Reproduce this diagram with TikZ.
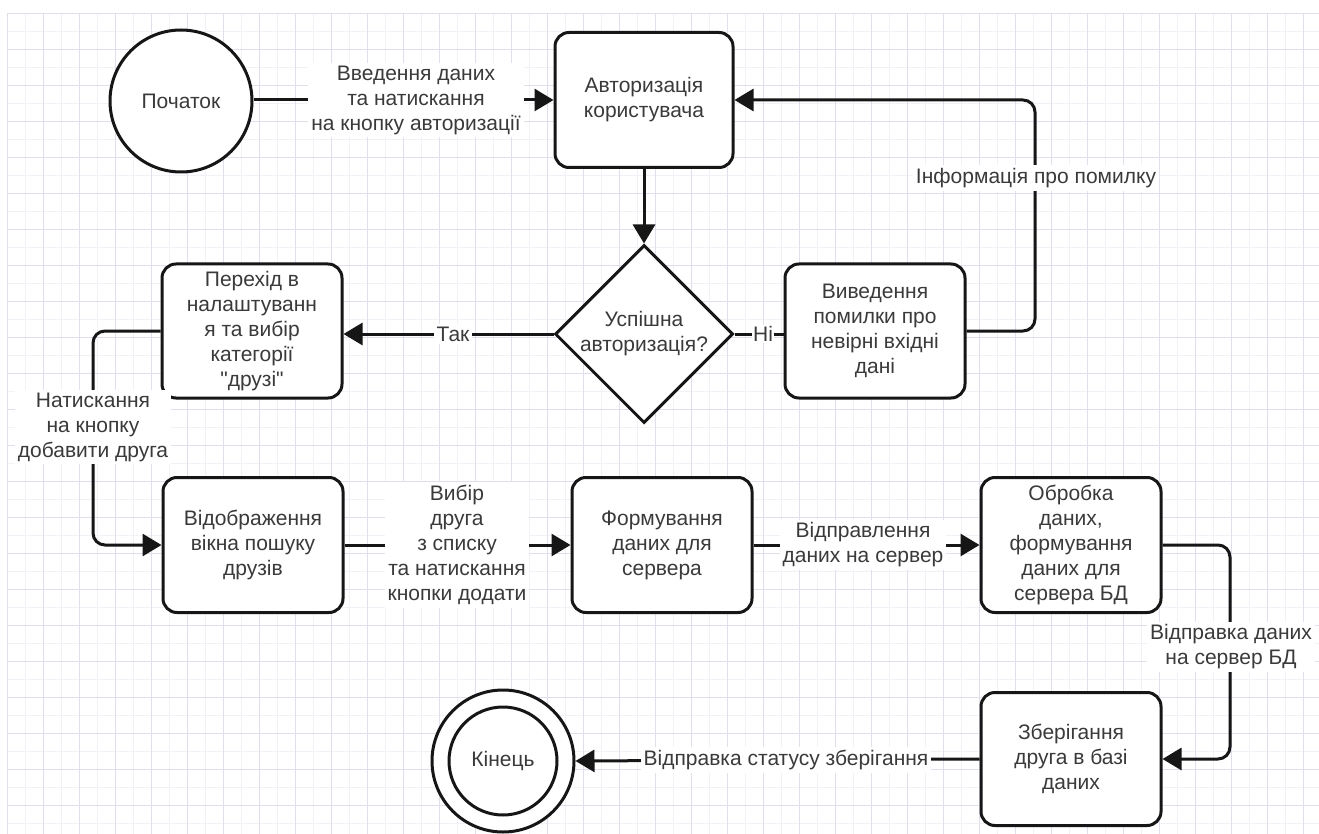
\documentclass[tikz,border=0pt]{standalone}
\usepackage{fontspec}
\setmainfont{Liberation Sans}
\newfontfamily\qfont{Liberation Sans}
\usetikzlibrary{arrows.meta,shapes.geometric}
\definecolor{gridminor}{RGB}{241,241,247}
\definecolor{gridmajor}{RGB}{224,224,236}
\definecolor{txt}{RGB}{58,58,58}
\definecolor{ink}{RGB}{22,22,22}
\tikzset{
  txtfont/.style={font=\fontsize{21}{25}\selectfont, text=txt, align=center},
  stepbox/.style={txtfont, draw=ink, line width=3pt, rounded corners=14pt, fill=white,
    minimum width=180pt, minimum height=134pt, inner sep=2pt},
  decision/.style={txtfont, draw=ink, line width=3pt, fill=white, shape=diamond,
    minimum width=178pt, minimum height=178pt, inner sep=0pt},
  terminal/.style={txtfont, draw=ink, line width=3pt, fill=white, circle, inner sep=0pt},
  lab/.style={txtfont, fill=white, inner sep=3pt},
  conn/.style={draw=ink, line width=3pt, rounded corners=12pt},
  arr/.style={conn, -{Triangle[length=19pt,width=22pt]}},
}
\begin{document}
\begin{tikzpicture}[x=1pt,y=-1pt]
\useasboundingbox (0,0) rectangle (1319,834);
\fill[white] (0,0) rectangle (1319,834);
% grid
\foreach \i in {0,...,72} {\draw[gridminor, line width=0.8pt] (7+18*\i,13) -- (7+18*\i,834);}
\foreach \j in {0,...,45} {\draw[gridminor, line width=0.8pt] (7,13+18*\j) -- (1319,13+18*\j);}
\foreach \i in {0,...,36} {\draw[gridmajor, line width=0.8pt] (7+36*\i,13) -- (7+36*\i,834);}
\foreach \j in {0,...,22} {\draw[gridmajor, line width=0.8pt] (7,13+36*\j) -- (1319,13+36*\j);}

% nodes
\node[terminal, minimum size=142pt] (start) at (181,101) {Початок};
\node[stepbox, minimum width=178pt, minimum height=135pt] (auth) at (644,100) {Авторизація\\користувача};
\node[decision] (dec) at (644,334) {Успішна\\авторизація?};
\node[stepbox] (err) at (875,331) {Виведення\\помилки про\\невірні вхідні\\дані};
\node[stepbox] (friends) at (252,331) {Перехід в\\налаштуванн\\я та вибір\\категорії\\{\qfont\char34}друзі{\qfont\char34}};
\node[stepbox, minimum height=135pt] (disp) at (253,545) {Відображення\\вікна пошуку\\друзів};
\node[stepbox, minimum height=135pt] (form) at (662,545) {Формування\\даних для\\сервера};
\node[stepbox, minimum height=135pt] (proc) at (1071,545) {Обробка\\даних,\\формування\\даних для\\сервера БД};
\node[stepbox, minimum height=133pt] (store) at (1071,759) {Зберігання\\друга в базі\\даних};
\node[terminal, minimum size=142pt] (endo) at (503,761) {};
\node[terminal, minimum size=108pt] (endi) at (endo.center) {Кінець};

% helper coordinates
\coordinate (eR) at (1035,100);
\coordinate (cL) at (93,440);
\coordinate (cR) at (1230,650);

% connectors
\draw[arr] (start.east |- auth.west) -- (auth.west);
\draw[arr] (auth.south) -- (dec.north);
\draw[arr] (dec.west) -- (friends.east |- dec.west);
\draw[conn] (dec.east) -- (err.west |- dec.east);
\draw[arr] (err.east) -| (eR) -- (auth.east);
\draw[arr] (friends.west) -| (cL) |- (disp.west);
\draw[arr] (disp.east) -- (form.west);
\draw[arr] (form.east) -- (proc.west);
\draw[arr] (proc.east) -| (cR) |- (store.east);
\draw[arr] (store.west) -- (endo.east);

% labels
\node[lab] (l1) at (416,100) {Введення даних\\та натискання\\на кнопку авторизації};
\node[lab] (l2) at (453,334) {Так};
\node[lab, inner sep=1pt] (l3) at (763,334) {Ні};
\node[lab] (l4) at (1036,178) {Інформація про помилку};
\node[lab] (l5) at (93,427) {Натискання\\на кнопку\\добавити друга};
\node[lab] (l6) at (457,545) {Вибір\\друга\\з списку\\та натискання\\кнопки додати};
\node[lab] (l7) at (863,545) {Відправлення\\даних на сервер};
\node[lab] (l8) at (1231,647) {Відправка даних\\на сервер БД};
\node[lab] (l9) at (786,760) {Відправка статусу зберігання};
\end{tikzpicture}
\end{document}
